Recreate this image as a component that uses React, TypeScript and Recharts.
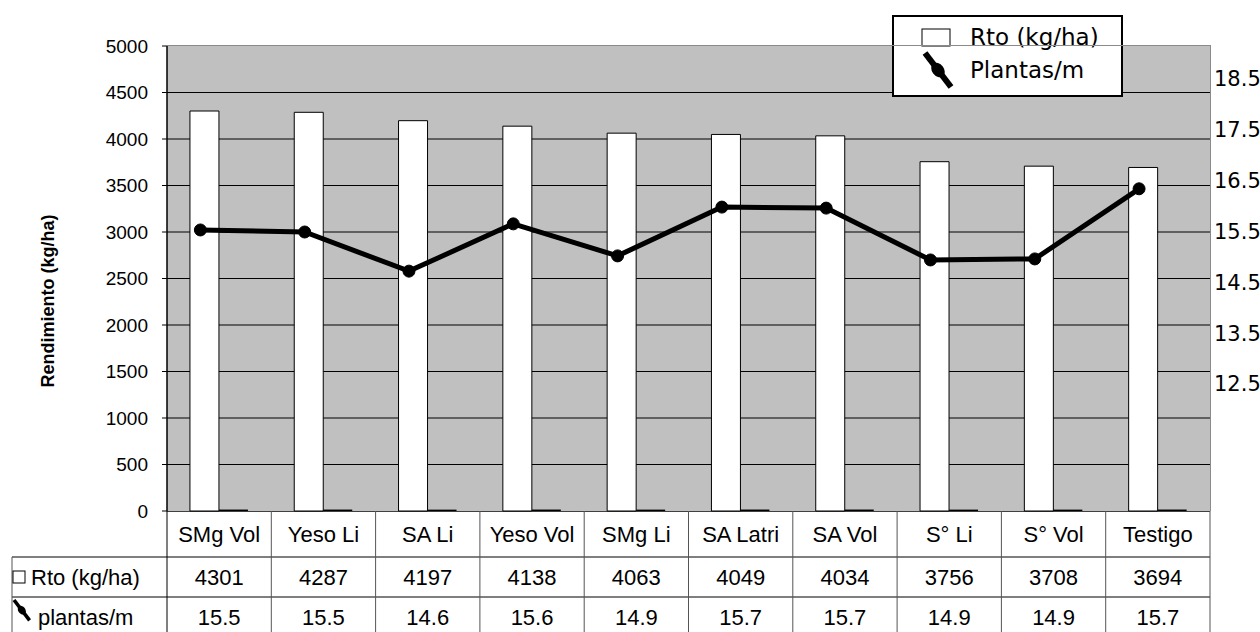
import React from "react";
import { ComposedChart, Bar, Line, XAxis, YAxis, CartesianGrid, Legend } from "recharts";

// treatments, in the order they appear on the chart
const tratamientos = ["SMg Vol", "Yeso Li", "SA Li", "Yeso Vol", "SMg Li", "SA Latri", "SA Vol", "S° Li", "S° Vol", "Testigo"];
const rto = [4301, 4287, 4197, 4138, 4063, 4049, 4034, 3756, 3708, 3694];
// values printed in the data table
const plantasTabla = [15.5, 15.5, 14.6, 15.6, 14.9, 15.7, 15.7, 14.9, 14.9, 15.7];
// values as drawn by the line
const plantasLinea = [15.53, 15.49, 14.72, 15.65, 15.02, 15.98, 15.96, 14.94, 14.96, 16.34];

const rtoTicks = [0, 500, 1000, 1500, 2000, 2500, 3000, 3500, 4000, 4500, 5000];
const gridValues = [500, 1000, 1500, 2000, 2500, 3000, 3500, 4000, 4500];
const plantasTicks = [12.5, 13.5, 14.5, 15.5, 16.5, 17.5, 18.5];

const W = 1260;
const H = 632;
const PLOT_L = 167;
const PLOT_R = 1210;
const PLOT_T = 46;
const PLOT_B = 511;
const COL_W = (PLOT_R - PLOT_L) / tratamientos.length;

const ARIAL = "'Liberation Sans', Arial, sans-serif";
const GOTHIC = "'DejaVu Sans', sans-serif";

const data = tratamientos.map((name, i) => ({
  name,
  idx: i,
  rto: rto[i],
  plantasBar: plantasTabla[i],
  plantas: plantasLinea[i],
}));

const LineIcon = ({ x, y, s = 1 }: { x: number; y: number; s?: number }) => (
  <g transform={`translate(${x},${y}) scale(${s})`}>
    <line x1={0} y1={0} x2={26} y2={34} stroke="#000" strokeWidth={6} />
    <ellipse cx={13} cy={17} rx={6} ry={8} transform="rotate(-37 13 17)" fill="#000" />
  </g>
);

const LegendBox = (props: any) => {
  const items = (props.payload || [])
    .filter((p: any) => p.type !== "none")
    .sort((a: any, b: any) => (a.type === "rect" ? -1 : 0) - (b.type === "rect" ? -1 : 0));
  return (
    <div
      style={{
        width: 231,
        height: 82,
        boxSizing: "border-box",
        border: "2px solid #000",
        background: "#fff",
        position: "relative",
      }}
    >
      <svg width={231} height={82} style={{ position: "absolute", left: -2, top: -2 }}>
        {items.map((p: any, i: number) => {
          const cy = i === 0 ? 22 : 55;
          return (
            <g key={p.value}>
              {p.type === "line" ? (
                <LineIcon x={33} y={cy - 17} />
              ) : (
                <rect x={30} y={cy - 8} width={28} height={17} fill="#fff" stroke="#000" strokeWidth={1} />
              )}
              <text x={78} y={cy} dominantBaseline="central" fontFamily={GOTHIC} fontSize={23} fill="#000">
                {p.value}
              </text>
            </g>
          );
        })}
      </svg>
    </div>
  );
};

const DataTable = () => {
  const top = PLOT_B;
  const rows = [top, top + 46, top + 86, top + 126];
  return (
    <svg width={W} height={H - top} style={{ position: "absolute", left: 0, top }}>
      <g transform={`translate(0,${-top})`}>
        <line x1={PLOT_L} x2={PLOT_R} y1={rows[0]} y2={rows[0]} stroke="#000" strokeWidth={1.5} />
        <line x1={12} x2={PLOT_R} y1={rows[1]} y2={rows[1]} stroke="#000" strokeWidth={1.2} />
        <line x1={12} x2={PLOT_R} y1={rows[2]} y2={rows[2]} stroke="#000" strokeWidth={1.2} />
        <line x1={12} x2={12} y1={rows[1]} y2={rows[3]} stroke="#555" strokeWidth={1} />
        {Array.from({ length: tratamientos.length + 1 }).map((_, k) => (
          <line
            key={k}
            x1={PLOT_L + k * COL_W}
            x2={PLOT_L + k * COL_W}
            y1={rows[0]}
            y2={rows[3]}
            stroke={k === 0 ? "#000" : "#555"}
            strokeWidth={1}
          />
        ))}
        {tratamientos.map((t, i) => {
          const cx = PLOT_L + (i + 0.5) * COL_W;
          return (
            <g key={t} fontFamily={ARIAL} fontSize={22} fill="#000" textAnchor="middle">
              <text x={cx} y={(rows[0] + rows[1]) / 2} dominantBaseline="central">{t}</text>
              <text x={cx} y={(rows[1] + rows[2]) / 2} dominantBaseline="central">{rto[i]}</text>
              <text x={cx} y={(rows[2] + rows[3]) / 2} dominantBaseline="central">{plantasTabla[i].toFixed(1)}</text>
            </g>
          );
        })}
        <rect x={13} y={(rows[1] + rows[2]) / 2 - 6} width={12} height={12} fill="#fff" stroke="#000" strokeWidth={1} />
        <text x={31} y={(rows[1] + rows[2]) / 2} dominantBaseline="central" fontFamily={ARIAL} fontSize={22}>
          Rto (kg/ha)
        </text>
        <LineIcon x={14} y={rows[2] + 3} s={0.6} />
        <text x={38} y={(rows[2] + rows[3]) / 2} dominantBaseline="central" fontFamily={ARIAL} fontSize={22}>
          plantas/m
        </text>
      </g>
    </svg>
  );
};

const YTitle = () => (
  <text
    x={48}
    y={301}
    transform="rotate(-90 48 301)"
    textAnchor="middle"
    dominantBaseline="central"
    fontFamily={ARIAL}
    fontWeight="bold"
    fontSize={18}
    fill="#000"
  >
    Rendimiento (kg/ha)
  </text>
);

export default function App() {
  return (
    <div style={{ position: "absolute", left: 0, top: 0, width: W, height: H, overflow: "hidden", background: "#fff" }}>
      <ComposedChart
        width={W}
        height={H}
        data={data}
        margin={{ top: PLOT_T, right: 0, bottom: H - PLOT_B, left: 0 }}
        barCategoryGap="22%"
        barGap={0}
      >
        <CartesianGrid
          xAxisId="cat"
          yAxisId="left"
          vertical={false}
          horizontalValues={gridValues}
          fill="#c0c0c0"
          fillOpacity={1}
          stroke="#000"
          strokeWidth={1}
        />
        <XAxis xAxisId="cat" dataKey="name" type="category" hide />
        <XAxis xAxisId="pts" dataKey="idx" type="number" domain={[-0.32, 9.68]} allowDataOverflow hide />
        <YAxis
          yAxisId="left"
          width={PLOT_L}
          domain={[0, 5000]}
          ticks={rtoTicks}
          interval={0}
          tickSize={5}
          tickMargin={14}
          axisLine={{ stroke: "#000", strokeWidth: 1.5 }}
          tickLine={{ stroke: "#000" }}
          tick={{ fill: "#000", fontSize: 19, fontFamily: ARIAL }}
          label={() => <YTitle />}
        />
        <YAxis
          yAxisId="right"
          orientation="right"
          width={W - PLOT_R}
          domain={[10, 19.15]}
          ticks={plantasTicks}
          interval={0}
          allowDataOverflow
          axisLine={false}
          tickLine={false}
          tickSize={0}
          tickMargin={4}
          tick={{ fill: "#000", fontSize: 21, fontFamily: GOTHIC }}
        />
        <Bar
          xAxisId="cat"
          yAxisId="left"
          dataKey="rto"
          name="Rto (kg/ha)"
          fill="#fff"
          stroke="#000"
          strokeWidth={1}
          legendType="rect"
          isAnimationActive={false}
        />
        <Bar
          xAxisId="cat"
          yAxisId="left"
          dataKey="plantasBar"
          name="plantas bar"
          fill="#000"
          legendType="none"
          isAnimationActive={false}
        />
        <Line
          xAxisId="pts"
          yAxisId="right"
          dataKey="plantas"
          name="Plantas/m"
          type="linear"
          stroke="#000"
          strokeWidth={5}
          dot={{ r: 6, fill: "#000", stroke: "#000", strokeWidth: 1 }}
          legendType="line"
          isAnimationActive={false}
        />
        <Legend
          layout="horizontal"
          verticalAlign="middle"
          align="center"
          wrapperStyle={{ left: 892, top: 15, width: 231, height: 82 }}
          content={(p: any) => <LegendBox {...p} />}
        />
      </ComposedChart>
      <div
        style={{
          position: "absolute",
          left: PLOT_L,
          top: PLOT_T - 1,
          width: PLOT_R - PLOT_L,
          height: PLOT_B - PLOT_T,
          borderTop: "1px solid #8a8a8a",
          borderRight: "1px solid #8a8a8a",
          pointerEvents: "none",
        }}
      />
      <DataTable />
    </div>
  );
}
